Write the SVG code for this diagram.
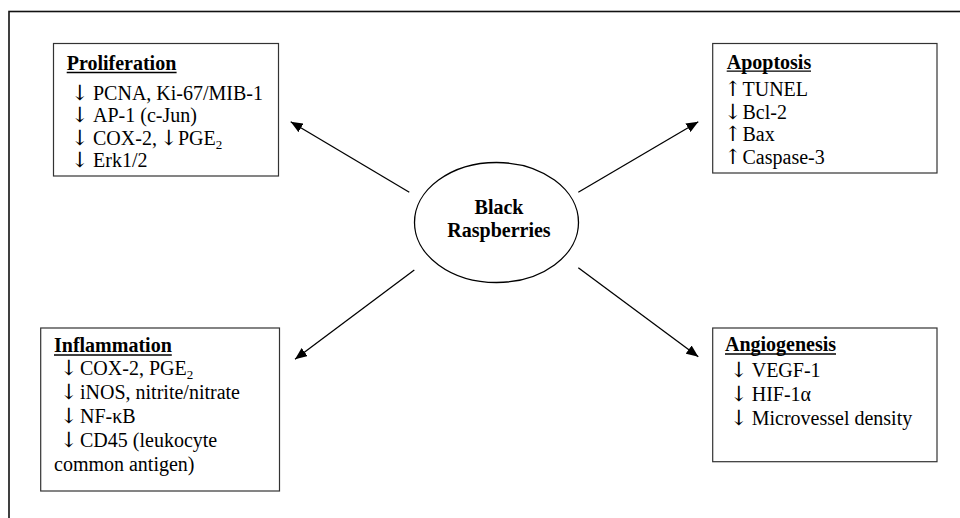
<svg xmlns="http://www.w3.org/2000/svg" width="960" height="518" viewBox="0 0 960 518">
<style>
.box{fill:#fff;stroke:#333;stroke-width:1.2}
.t{font-family:"Liberation Serif","Times New Roman","DejaVu Serif",serif;font-size:20px;fill:#000}
.a{font-family:"DejaVu Serif","Liberation Serif",serif;font-size:21px;fill:#000}
.b{font-weight:bold}
.ul{stroke:#000;stroke-width:1.3}
.sub{font-size:13px}
.conn line{stroke:#000;stroke-width:1.3;marker-end:url(#ah)}
</style>
<defs>
<marker id="ah" viewBox="0 0 12 10" refX="12" refY="5" markerWidth="12" markerHeight="10" markerUnits="userSpaceOnUse" orient="auto">
<path d="M0,0 L12,5 L0,10 Z" fill="#000"/>
</marker>
</defs>
<rect x="0" y="0" width="960" height="518" fill="#fff"/>
<rect x="9" y="11.5" width="1000" height="560" fill="none" stroke="#111" stroke-width="1.6"/>

<g id="proliferation">
<rect class="box" x="53.5" y="43.5" width="225" height="132.5"/>
<text class="t b" x="66.7" y="70">Proliferation</text>
<line class="ul" x1="66.7" y1="72.5" x2="176.6" y2="72.5"/>
<text class="a" x="71" y="99.5">↓</text><text class="t" x="93" y="99.5">PCNA, Ki-67/MIB-1</text>
<text class="a" x="71" y="122">↓</text><text class="t" x="93" y="122">AP-1 (c-Jun)</text>
<text class="a" x="71" y="144.5">↓</text><text class="t" x="93" y="144.5">COX-2,</text><text class="a" x="160" y="144.5">↓</text><text class="t" x="178" y="144.5">PGE<tspan class="sub" dy="4">2</tspan></text>
<text class="a" x="71" y="167">↓</text><text class="t" x="93" y="167">Erk1/2</text>
</g>

<g id="apoptosis">
<rect class="box" x="712.7" y="43.5" width="224.3" height="129.5"/>
<text class="t b" x="726.7" y="68.5">Apoptosis</text>
<line class="ul" x1="726.7" y1="71.2" x2="811" y2="71.2"/>
<text class="a" x="724" y="96">↑</text><text class="t" x="742.5" y="96">TUNEL</text>
<text class="a" x="724" y="118.7">↓</text><text class="t" x="742.5" y="118.7">Bcl-2</text>
<text class="a" x="724" y="141.4">↑</text><text class="t" x="742.5" y="141.4">Bax</text>
<text class="a" x="724" y="164">↑</text><text class="t" x="742.5" y="164">Caspase-3</text>
</g>

<g id="inflammation">
<rect class="box" x="40.7" y="328" width="238.8" height="163"/>
<text class="t b" x="54" y="351.5">Inflammation</text>
<line class="ul" x1="54" y1="355" x2="171.8" y2="355"/>
<text class="a" x="60" y="374.5">↓</text><text class="t" x="80" y="374.5">COX-2, PGE<tspan class="sub" dy="4">2</tspan></text>
<text class="a" x="60" y="398.6">↓</text><text class="t" x="80" y="398.6">iNOS, nitrite/nitrate</text>
<text class="a" x="60" y="422.8">↓</text><text class="t" x="80" y="422.8">NF-κB</text>
<text class="a" x="60" y="447">↓</text><text class="t" x="80" y="447">CD45 (leukocyte</text>
<text class="t" x="54" y="471">common antigen)</text>
</g>

<g id="angiogenesis">
<rect class="box" x="712.7" y="328" width="224.3" height="133.7"/>
<text class="t b" x="725" y="351">Angiogenesis</text>
<line class="ul" x1="725" y1="354" x2="836" y2="354"/>
<text class="a" x="730" y="377">↓</text><text class="t" x="751.7" y="377">VEGF-1</text>
<text class="a" x="730" y="401">↓</text><text class="t" x="751.7" y="401">HIF-1α</text>
<text class="a" x="730" y="425">↓</text><text class="t" x="751.7" y="425">Microvessel density</text>
</g>

<g id="black-raspberries">
<ellipse cx="496.5" cy="222.5" rx="82" ry="60" fill="#fff" stroke="#000" stroke-width="1.3"/>
<text class="t b" x="499" y="214" text-anchor="middle">Black</text>
<text class="t b" x="499" y="236.7" text-anchor="middle">Raspberries</text>
</g>

<g id="connectors" class="conn">
<line x1="409.3" y1="192.3" x2="290.7" y2="121.7"/>
<line x1="578.3" y1="192.3" x2="698.3" y2="121.7"/>
<line x1="414.3" y1="270" x2="295" y2="359.3"/>
<line x1="578.3" y1="267.7" x2="698.3" y2="356.7"/>
</g>
</svg>
